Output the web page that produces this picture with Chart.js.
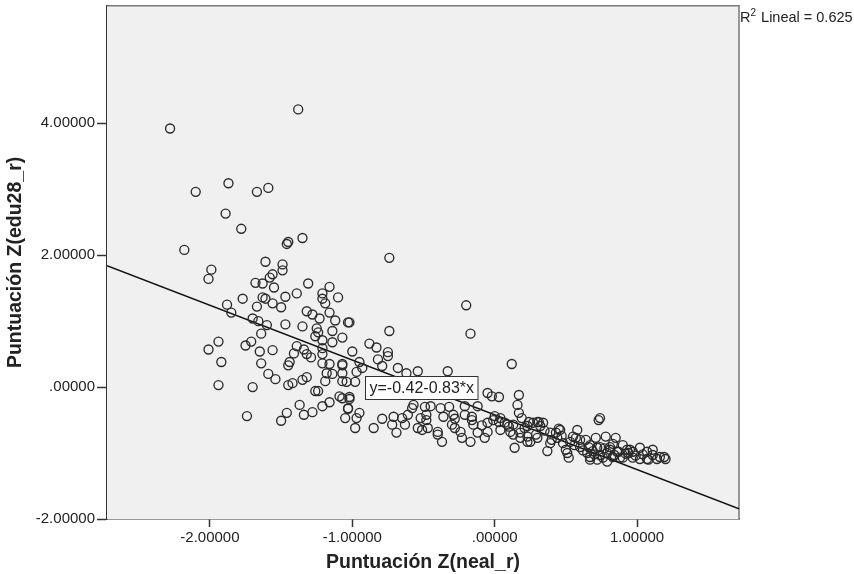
<!DOCTYPE html>
<html>
<head>
<meta charset="utf-8">
<script src="https://cdn.jsdelivr.net/npm/chart.js@4.4.1/dist/chart.umd.min.js"></script>
<style>
  body { margin: 0; background: #fff; }
  #chart { display: block; }
</style>
</head>
<body>
<canvas id="chart" width="854" height="574"></canvas>
<script>
// Z scores
const zNeal = [
  -1.38, -2.28, -2.10, -1.87, -1.67, -1.59, -1.89, -1.78, -2.18, -1.46,
  -1.45, -1.35, -0.74, -1.61, -1.99, -2.01, -1.49, -1.49, -1.56, -1.58,
  -1.68, -1.63, -1.55, -1.31, -1.16, -1.21, -1.10, -1.21, -1.19, -1.39,
  -1.47, -1.77, -1.63, -1.61, -1.56, -1.50, -1.67, -1.88, -1.85, -1.32,
  -1.28, -1.23, -1.16, -1.12, -1.03, -1.70, -1.66, -1.60, -1.47, -1.35,
  -1.64, -1.25, -1.24, -1.26, -1.14, -1.07, -1.14, -1.21, -1.94, -2.01,
  -1.75, -1.71, -1.65, -1.56, -1.39, -1.34, -1.41, -1.32, -1.29, -1.21,
  -1.21, -1.92, -1.64, -1.44, -1.45, -1.21, -1.16, -1.07, -1.59, -1.54,
  -1.32, -1.35, -1.18, -1.14, -1.07, -1.07, -1.19, -1.94, -1.70, -1.45,
  -1.42, -1.26, -1.24, -1.16, -1.09, -1.07, -1.02, -1.37, -1.21, -1.74,
  -1.46, -1.34, -1.28, -1.03, -1.50,
  -0.20, -1.02, -0.74, -0.17, -0.88, -0.83, -1.00, -0.75, -0.75, -0.82,
  -1.07, -0.95, -0.93, -0.79, -0.68, -0.54, -0.33, 0.12, -0.97, -0.62,
  -0.98, -1.04, -0.05, -0.02, 0.03, 0.17, -1.02, -1.03, -0.95, -0.97,
  -0.57, -0.58, -0.49, -0.45, -0.38, -0.32, -0.21, -0.12, 0.16, 0.17,
  -1.05, -0.71, -0.65, -0.61, -0.52, -0.48, -0.48, -0.36, -0.29, -0.28,
  -0.21, -0.16, -0.16, -0.05, -0.01, 0.03, 0.09, 0.13, 0.19, 0.24,
  0.30, -0.79, -0.72, -0.63, -0.85, -0.54, -0.51, -0.47, -0.40, -0.30,
  -0.28, -0.24, -0.15, -0.12, -0.05, 0.04, 0.13, 0.18, 0.23, 0.29,
  -0.98, -0.69, -0.40, -0.23, -0.17, -0.07, -0.37, 0.14, 0.23, 0.04,
  0.07, 0.11,
  0.27, 0.31, 0.34, 0.32, 0.23, 0.18, 0.25, 0.37, 0.39, 0.43,
  0.45, 0.46, 0.44, 0.50, 0.51, 0.55, 0.58, 0.53, 0.60, 0.64,
  0.66, 0.73, 0.74, 0.71, 0.78, 0.85, 0.90, 0.65, 0.67, 0.74,
  0.79, 0.81, 0.87, 0.93, 0.97, 1.02, 1.07, 1.11, 1.11, 1.19,
  1.20, 1.14, 1.07, 1.02, 0.97, 0.88, 0.83, 0.79, 0.76, 0.67,
  0.30, 0.39, 0.40, 0.48, 0.57, 0.72, 0.95, 0.52, 0.72, 0.90,
  1.08, 0.74, 0.86, 0.60, 0.67, 0.81,
  0.62, 0.70, 0.77, 0.84, 0.92, 0.99, 1.04, 1.16, 0.56, 0.69,
  0.83, 0.94, 0.47, 0.35, 0.21, 0.10, -0.09, 0.00
];
const zEdu = [
  4.21, 3.92, 2.96, 3.09, 2.96, 3.02, 2.63, 2.40, 2.08, 2.17,
  2.20, 2.26, 1.96, 1.90, 1.78, 1.64, 1.86, 1.77, 1.71, 1.66,
  1.58, 1.57, 1.51, 1.57, 1.52, 1.42, 1.36, 1.34, 1.27, 1.42,
  1.37, 1.34, 1.36, 1.34, 1.27, 1.21, 1.22, 1.25, 1.13, 1.15,
  1.10, 1.04, 1.13, 1.01, 0.98, 1.04, 1.00, 0.94, 0.95, 0.92,
  0.81, 0.89, 0.83, 0.77, 0.85, 0.75, 0.68, 0.71, 0.69, 0.57,
  0.63, 0.69, 0.54, 0.56, 0.62, 0.57, 0.51, 0.50, 0.45, 0.59,
  0.50, 0.38, 0.36, 0.38, 0.33, 0.36, 0.35, 0.35, 0.20, 0.12,
  0.15, 0.11, 0.21, 0.20, 0.21, 0.09, 0.09, 0.03, 0.00, 0.03,
  0.06, -0.06, -0.06, -0.23, -0.14, -0.17, -0.15, -0.27, -0.29, -0.44,
  -0.39, -0.42, -0.38, -0.33, -0.51,
  1.24, 0.98, 0.85, 0.81, 0.66, 0.60, 0.54, 0.53, 0.47, 0.42,
  0.33, 0.38, 0.29, 0.32, 0.29, 0.24, 0.24, 0.35, 0.23, 0.21,
  0.08, 0.08, -0.09, -0.14, -0.15, -0.12, -0.18, -0.32, -0.39, -0.47,
  -0.27, -0.32, -0.30, -0.29, -0.32, -0.30, -0.29, -0.29, -0.27, -0.39,
  -0.47, -0.45, -0.47, -0.42, -0.47, -0.42, -0.50, -0.45, -0.42, -0.48,
  -0.42, -0.45, -0.50, -0.54, -0.50, -0.53, -0.57, -0.57, -0.47, -0.53,
  -0.53, -0.48, -0.57, -0.57, -0.62, -0.62, -0.65, -0.62, -0.68, -0.57,
  -0.62, -0.68, -0.57, -0.69, -0.68, -0.65, -0.72, -0.77, -0.75, -0.72,
  -0.62, -0.69, -0.72, -0.77, -0.83, -0.77, -0.83, -0.92, -0.83, -0.47,
  -0.54, -0.68,
  -0.54, -0.53, -0.54, -0.59, -0.59, -0.69, -0.83, -0.97, -0.85, -0.69,
  -0.63, -0.65, -0.77, -0.95, -1.00, -0.75, -0.65, -0.83, -0.80, -0.80,
  -0.91, -0.50, -0.47, -0.77, -0.75, -0.77, -0.88, -1.00, -1.06, -0.91,
  -1.00, -0.95, -0.98, -0.95, -0.98, -0.92, -0.98, -0.95, -1.03, -1.06,
  -1.09, -1.09, -1.09, -1.09, -1.07, -1.07, -1.06, -1.13, -1.07, -1.10,
  -0.77, -0.69, -0.80, -0.85, -0.77, -0.92, -0.95, -1.07, -1.10, -1.07,
  -1.10, -1.03, -0.98, -0.91, -0.88, -0.91,
  -0.96, -1.02, -0.93, -1.03, -1.01, -1.04, -1.02, -1.06, -0.88, -0.97,
  -0.86, -1.00, -0.74, -0.66, -0.62, -0.60, -0.58, -0.44
];

// axis ranges and ticks
const xMin = -2.723, xMax = 1.716;
const yMin = -2, yMax = 5.78;
const xTicks = [-2, -1, 0, 1];
const yTicks = [-2, 0, 2, 4];

// fit line from the chart's own label
const fitIntercept = -0.42;
const fitSlope = -0.83;
const rSquared = '0.625';

const fontFamily = '"Liberation Sans", Arial, sans-serif';

const points = zNeal.map((x, i) => ({ x: x, y: zEdu[i] }));
const fitPoints = [xMin, xMax].map(x => ({ x: x, y: fitIntercept + fitSlope * x }));

function fmtTick(v) {
    if (v === 0) return '.00000';
    return v.toFixed(5);
}

const frameAndLabels = {
    id: 'frameAndLabels',
    beforeDatasetsDraw(chart) {
        const a = chart.chartArea;
        const c = chart.ctx;
        c.save();
        c.fillStyle = '#f0f0f0';
        c.fillRect(a.left, a.top, a.right - a.left, a.bottom - a.top);
        c.strokeStyle = '#777';
        c.lineWidth = 1.5;
        c.beginPath();
        c.moveTo(a.left, a.top);
        c.lineTo(a.right, a.top);
        c.lineTo(a.right, a.bottom);
        c.stroke();
        c.restore();
    },
    afterDraw(chart) {
        const a = chart.chartArea;
        const c = chart.ctx;
        const xs = chart.scales.x, ys = chart.scales.y;
        c.save();

        // equation box
        const eq = 'y=-0.42-0.83*x';
        c.font = '16px ' + fontFamily;
        const tw = c.measureText(eq).width;
        const bx = Math.round(xs.getPixelForValue(-0.911)) + 0.5;
        const by = Math.round(ys.getPixelForValue(0.166)) + 0.5;
        c.fillStyle = '#fff';
        c.fillRect(bx, by, tw + 8, 23);
        c.strokeStyle = '#333';
        c.lineWidth = 1;
        c.strokeRect(bx, by, tw + 8, 23);
        c.fillStyle = '#222';
        c.textBaseline = 'middle';
        c.textAlign = 'left';
        c.fillText(eq, bx + 4, by + 12);

        // R2 label
        c.textBaseline = 'alphabetic';
        c.font = '14.5px ' + fontFamily;
        let tx = a.right + 1;
        c.fillText('R', tx, 22);
        tx += c.measureText('R').width;
        c.font = '10px ' + fontFamily;
        c.fillText('2', tx, 16);
        tx += c.measureText('2').width + 1;
        c.font = '14.5px ' + fontFamily;
        c.fillText(' Lineal = ' + rSquared, tx, 22);
        c.restore();
    }
};

const ctx = document.getElementById('chart').getContext('2d');
new Chart(ctx, {
    type: 'scatter',
    data: {
        datasets: [{
            data: points,
            pointStyle: 'circle',
            pointRadius: 4.5,
            pointHoverRadius: 4.5,
            pointBorderWidth: 1.35,
            pointBorderColor: '#2a2a2a',
            pointBackgroundColor: 'rgba(0,0,0,0)'
        }, {
            type: 'line',
            data: fitPoints,
            borderColor: '#111',
            borderWidth: 1.5,
            pointRadius: 0,
            fill: false,
            showLine: true
        }]
    },
    options: {
        responsive: false,
        animation: false,
        devicePixelRatio: 1,
        layout: { padding: { left: 0, top: 4, right: 115, bottom: 0 } },
        plugins: {
            legend: { display: false },
            tooltip: { enabled: false }
        },
        scales: {
            x: {
                type: 'linear',
                min: xMin,
                max: xMax,
                afterBuildTicks: s => { s.ticks = xTicks.map(v => ({ value: v })); },
                afterFit: s => { s.height = 55; s.paddingLeft = 0; s.paddingRight = 0; },
                grid: { drawOnChartArea: false, tickLength: 8, color: '#333', tickWidth: 1.5 },
                border: { color: '#333', width: 1.5 },
                ticks: {
                    autoSkip: false,
                    maxRotation: 0,
                    padding: 2,
                    color: '#222',
                    font: { family: fontFamily, size: 15 },
                    callback: v => fmtTick(v)
                },
                title: {
                    display: true,
                    text: 'Puntuación Z(neal_r)',
                    color: '#222',
                    padding: 0,
                    font: { family: fontFamily, size: 19.5, weight: 'bold' }
                }
            },
            y: {
                type: 'linear',
                min: yMin,
                max: yMax,
                afterBuildTicks: s => { s.ticks = yTicks.map(v => ({ value: v })); },
                afterFit: s => { s.width = 107; s.paddingTop = 0; s.paddingBottom = 0; },
                grid: { drawOnChartArea: false, tickLength: 10, color: '#333', tickWidth: 1.5 },
                border: { color: '#333', width: 1.5 },
                ticks: {
                    autoSkip: false,
                    padding: 2,
                    color: '#222',
                    font: { family: fontFamily, size: 15 },
                    callback: v => fmtTick(v)
                },
                title: {
                    display: true,
                    text: 'Puntuación Z(edu28_r)',
                    color: '#222',
                    padding: 4,
                    font: { family: fontFamily, size: 19.5, weight: 'bold' }
                }
            }
        }
    },
    plugins: [frameAndLabels]
});
</script>
</body>
</html>
